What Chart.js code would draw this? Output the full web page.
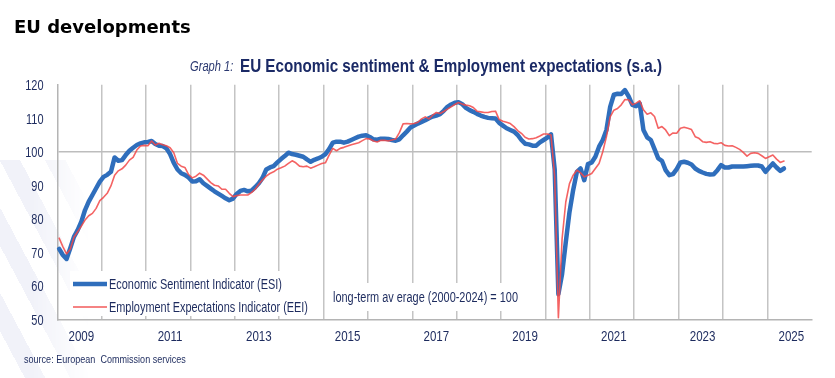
<!DOCTYPE html>
<html>
<head>
<meta charset="utf-8">
<script src="https://cdn.jsdelivr.net/npm/chart.js@4.4.1/dist/chart.umd.min.js"></script>
<style>
  html, body { margin: 0; padding: 0; background: #fff; }
  body { width: 835px; height: 378px; position: relative; overflow: hidden;
         font-family: 'Liberation Sans', Arial, sans-serif; }
  #stripes { position: absolute; left: 0; top: 160px; width: 90px; height: 218px;
             background: repeating-linear-gradient(62deg, rgba(255,255,255,0) 0 22px, #f1f2f9 22px 40px);
             -webkit-mask-image: linear-gradient(to right, #000 35%, transparent);
             mask-image: linear-gradient(to right, #000 35%, transparent); }
  #chart { position: absolute; left: 0; top: 0; }
  .h1 { position: absolute; left: 14px; top: 16px; font: bold 18px 'DejaVu Sans', sans-serif; color: #000; }
  .fit { position: absolute; white-space: pre; transform-origin: 0 0; line-height: 1.15; }
  .t1 { left: 190px; top: 58px; font-size: 14px; font-style: italic; color: #2a3870; }
  .t2 { left: 240px; top: 55px; font-size: 18.5px; font-weight: bold; color: #1b2a66; }
  .src { left: 24px; top: 353px; font-size: 11.5px; color: #1d2b5e; }
</style>
</head>
<body>
<div id="stripes"></div>
<canvas id="chart" width="835" height="378"></canvas>
<div class="h1">EU developments</div>
<div class="fit t1" data-w="43">Graph 1:</div>
<div class="fit t2" data-w="422">EU Economic sentiment &amp; Employment expectations (s.a.)</div>
<div class="fit src" data-w="162">source: European  Commission services</div>
<script>
  const FONT = "'Liberation Sans', Arial, sans-serif";
  const NAVY = '#1d2b5e';
  const BLUE = '#2f6ebc';
  const RED = 'rgba(242,72,72,0.85)';

  const FIRST_YEAR = 2009;
  const LAST_YEAR = 2025;
  const YEAR_LABELS = ['2009', '2011', '2013', '2015', '2017', '2019', '2021', '2023', '2025'];
  const Y_TICKS = [50, 60, 70, 80, 90, 100, 110, 120];

  // months Jan 2009 .. Dec 2025 (categories)
  const months = [];
  for (let y = FIRST_YEAR; y <= LAST_YEAR; y++) {
    for (let m = 1; m <= 12; m++) months.push(y + '-' + String(m).padStart(2, '0'));
  }

  // Economic Sentiment Indicator, Jan 2009 .. May 2025
  const esi = [
    71, 69.2, 68, 71.2, 74.6, 76.6, 79.1, 82.6, 85.1, 87.1, 89.1, 91.1,              // 2009
    92.5, 93.1, 94, 98.3, 97.3, 97.5, 99, 100.3, 101.2, 102, 102.5, 102.8,           // 2010
    102.9, 103.2, 102.3, 101.8, 101.7, 101, 99.3, 96.7, 94.7, 93.6, 93.1, 92.3,      // 2011
    91.1, 91.2, 91.8, 90.6, 89.8, 89, 88.2, 87.5, 86.8, 86.1, 85.5, 86,              // 2012
    87.4, 88.3, 88.6, 88.2, 88.4, 89.4, 90.6, 92.2, 94.7, 95.3, 95.7, 96.8,          // 2013
    97.8, 98.7, 99.7, 99.3, 99.1, 98.8, 98.5, 97.7, 97, 97.6, 98, 98.5,              // 2014
    99.3, 100.8, 102.7, 103, 103, 102.7, 103, 103.5, 104, 104.5, 104.8, 104.9,       // 2015
    104.4, 103.7, 103.6, 103.9, 103.9, 103.8, 103.5, 103.3, 103.7, 104.9, 106, 107.2,// 2016
    107.8, 108.4, 108.9, 109.4, 110, 110.5, 110.8, 111.2, 112.2, 113.4, 114.1, 114.6,// 2017
    114.8, 114.2, 113.1, 112.4, 111.9, 111.3, 110.8, 110.4, 110.1, 110, 109.9, 108.6,// 2018
    107.8, 107, 106.5, 106, 105, 103.5, 102.4, 102.2, 101.8, 101.8, 102.8, 103.5,    // 2019
    104.2, 105.2, 94.8, 57.5, 63.5, 73, 82, 88.6, 94, 95, 91.5, 96.3,                // 2020
    96.8, 98.5, 101.5, 103.5, 106.5, 113.4, 117, 117.3, 117.2, 118.4, 116.5, 114,    // 2021
    113.6, 114.4, 106.5, 104.3, 103.5, 100.8, 98, 97.3, 94.5, 93, 93.3, 94.8,        // 2022
    96.8, 97, 96.7, 96.2, 95, 94.3, 93.8, 93.4, 93.2, 93.3, 94.5, 96,                // 2023
    95.3, 95.3, 95.6, 95.6, 95.6, 95.6, 95.7, 95.8, 95.9, 95.9, 95.6, 94,            // 2024
    95.3, 96.5, 95.3, 94.3, 95                                                       // 2025
  ];

  // Employment Expectations Indicator, Jan 2009 .. May 2025
  const eei = [
    74.2, 71.7, 69.5, 70.9, 74.5, 76.1, 77.8, 79.6, 80.9, 81.6, 83.1, 85.4,          // 2009
    86.4, 87.6, 89.8, 93, 94.3, 94.9, 96, 97.5, 98.3, 100.5, 101.7, 101.9,           // 2010
    101.8, 103.2, 102, 102.5, 102.1, 101.8, 101.2, 99.7, 96.5, 95.7, 95.3, 93.2,     // 2011
    92.2, 92.7, 93.6, 93, 91.9, 90.8, 90, 89.8, 88.8, 88.8, 87.6, 86.6,              // 2012
    86.9, 87.1, 87.1, 87.1, 87.8, 88.8, 90.3, 91.6, 92.7, 93.5, 94, 94.8,            // 2013
    95.2, 95.7, 96.5, 97.3, 96.7, 95.7, 95.5, 95.7, 95.1, 95.5, 96, 96.5,            // 2014
    96.7, 99, 101, 100.3, 101, 101.3, 101.7, 102.1, 102.4, 102.7, 103.3, 103.9,      // 2015
    103.8, 103.2, 102.9, 103.4, 103.4, 103.2, 103.5, 103.8, 105.7, 108.3, 108.4, 108.3, // 2016
    108.4, 108.8, 109.8, 110.4, 109.8, 110.9, 111.7, 111.4, 112, 112.7, 113.4, 114.1,// 2017
    114.7, 114.2, 113.9, 113.7, 113.2, 112.1, 111.9, 111.7, 111.7, 112, 112.1, 109.6,// 2018
    109.1, 108.8, 108.4, 107.5, 106.3, 105.5, 104.3, 103.8, 103.9, 104.2, 104.7, 105.3, // 2019
    105.3, 105, 92.5, 50.5, 74, 85, 90.5, 93, 94.5, 93.7, 92.5, 93,                  // 2020
    93.5, 95, 96.5, 100, 104.5, 110.4, 112.4, 112.9, 114, 115.6, 115.5, 114,         // 2021
    114.5, 115.2, 112.5, 111.2, 111.6, 110.5, 107, 107.5, 106.5, 104.8, 105.6, 105.5,// 2022
    107, 107.3, 107, 106.6, 104.5, 104, 103, 102.8, 103, 102.5, 102.4, 102.7,        // 2023
    101.9, 101.7, 101.8, 101.3, 100.7, 99.8, 98.7, 99.5, 99.7, 99.5, 98.8, 98,       // 2024
    98.5, 99, 97.8, 96.8, 97.2                                                       // 2025
  ];

  const LEGEND = [
    { text: 'Economic Sentiment Indicator (ESI)', color: BLUE, width: 4.5, w: 173 },
    { text: 'Employment Expectations Indicator (EEI)', color: '#f25a5a', width: 1.6, w: 199 }
  ];
  const NOTE = 'long-term av erage (2000-2024) = 100';

  // squeeze text horizontally so it takes the width the narrow face had
  function narrowText(c, text, x, y, align, sx) {
    c.save();
    c.translate(x, y);
    c.scale(sx, 1);
    c.textAlign = align || 'left';
    c.fillText(text, 0, 0);
    c.restore();
  }
  const fitScale = (c, text, w) => w / c.measureText(text).width;

  document.querySelectorAll('.fit').forEach(el => {
    el.style.transform = 'scaleX(' + (Number(el.dataset.w) / el.offsetWidth) + ')';
  });

  // white boxes, legend and note inside the plot
  const overlay = {
    id: 'overlay',
    beforeDatasetsDraw(chart) {
      const c = chart.ctx;
      c.save();
      c.fillStyle = '#fff';
      c.fillRect(70, 271, 244, 45);
      c.fillRect(328, 283, 195, 28);
      c.font = '14px ' + FONT;
      c.textBaseline = 'middle';
      LEGEND.forEach((it, i) => {
        const y = 284 + i * 23;
        c.strokeStyle = it.color;
        c.lineWidth = it.width;
        c.beginPath(); c.moveTo(73, y); c.lineTo(107, y); c.stroke();
        c.fillStyle = NAVY;
        narrowText(c, it.text, 109, y + 1, 'left', fitScale(c, it.text, it.w));
      });
      narrowText(c, NOTE, 333, 298, 'left', fitScale(c, NOTE, 185));
      c.restore();
    },
    // axis labels, placed through the scales
    afterDraw(chart) {
      const c = chart.ctx, xs = chart.scales.x, ys = chart.scales.y;
      c.save();
      c.font = '14px ' + FONT;
      c.fillStyle = NAVY;
      c.textBaseline = 'middle';
      const sy = fitScale(c, '120', 18.3);
      Y_TICKS.forEach(v => narrowText(c, String(v), 43.5, ys.getPixelForValue(v) + 1.5, 'right', sy));
      const sx = fitScale(c, '2009', 25.7);
      YEAR_LABELS.forEach(yr => {
        const i = months.indexOf(yr + '-07');
        narrowText(c, yr, xs.getPixelForValue(i), 337, 'center', sx);
      });
      c.restore();
    }
  };

  new Chart(document.getElementById('chart'), {
    type: 'line',
    data: {
      labels: months,
      datasets: [
        { label: 'ESI', data: esi, borderColor: BLUE, borderWidth: 4.5, order: 1 },
        { label: 'EEI', data: eei, borderColor: RED, borderWidth: 1.6, order: 0 }
      ]
    },
    options: {
      responsive: false,
      animation: false,
      devicePixelRatio: 1,
      layout: { padding: { left: 0, right: 23.3, top: 84.7, bottom: 28.7 } },
      elements: {
        point: { radius: 0 },
        line: { tension: 0, borderJoinStyle: 'round', borderCapStyle: 'round' }
      },
      plugins: { legend: { display: false }, tooltip: { enabled: false } },
      scales: {
        x: {
          offset: true,
          afterFit: s => { s.height = 30; },
          grid: {
            offset: true,
            drawTicks: false,
            lineWidth: 1.5,
            color: ctx => (ctx.index % 12 === 0 && ctx.index > 0) ? '#c4c4c4' : 'rgba(0,0,0,0)'
          },
          border: { display: true, color: '#b4b4b4', width: 1.5 },
          ticks: { display: false, autoSkip: false }
        },
        y: {
          min: 50, max: 120,
          afterFit: s => { s.width = 57.3; },
          grid: {
            drawTicks: false,
            lineWidth: 1.5,
            color: ctx => ctx.tick && ctx.tick.value === 100 ? '#bdbdbd' : 'rgba(0,0,0,0)'
          },
          border: { display: true, color: '#b4b4b4', width: 1.5 },
          ticks: { display: false, stepSize: 10 }
        }
      }
    },
    plugins: [overlay]
  });
</script>
</body>
</html>
